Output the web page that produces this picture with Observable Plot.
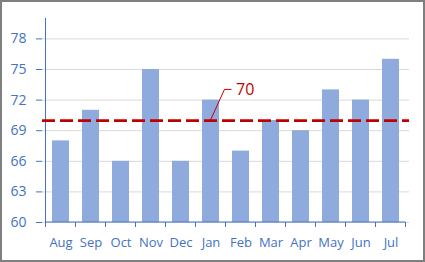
<!DOCTYPE html>
<html>
<head>
<meta charset="utf-8">
<script src="https://cdn.jsdelivr.net/npm/d3@7"></script>
<script src="https://cdn.jsdelivr.net/npm/@observablehq/plot@0.6"></script>
<style>
  html, body { margin: 0; padding: 0; background: #fff; }
  #wrap { position: relative; width: 425px; height: 262px; overflow: hidden; background: #fff; }
  #border { position: absolute; left: 0; top: 0; width: 425px; height: 262px; box-sizing: border-box; border: 2px solid #7f7f7f; pointer-events: none; }
  #wrap svg { position: absolute; left: 0; top: 0; }
</style>
</head>
<body>
<div id="wrap"><div id="border"></div></div>
<script>
const months = ["Aug", "Sep", "Oct", "Nov", "Dec", "Jan", "Feb", "Mar", "Apr", "May", "Jun", "Jul"];
const values = [68, 71, 66, 75, 66, 72, 67, 70, 69, 73, 72, 76];
const yTicks = [60, 63, 66, 69, 72, 75, 78];
const yDomain = [60, 80];
const target = 70;
const targetLabel = "70";
const labelMonth = "Jan";
const labelValue = 73;

const data = months.map((m, i) => ({month: m, value: values[i]}));

const axisColor = "#4472c4";
const barColor = "#8faadc";
const red = "#c00000";
const font = "'Open Sans', sans-serif";

function bw(s) { return typeof s.bandwidth === "function" ? s.bandwidth() : (s.bandwidth || 0); }
function st(s) { return typeof s.step === "function" ? s.step() : (s.step || bw(s)); }

// y axis line + category boundary ticks
function axesExtras(index, scales) {
  const sx = scales.x, sy = scales.y;
  const g = d3.create("svg:g");
  const step = st(sx), b = bw(sx);
  const x0 = sx(months[0]) + b / 2 - step / 2;
  const xN = sx(months[months.length - 1]) + b / 2 + step / 2;
  const yb = sy(yDomain[0]), yt = sy(yDomain[1]);
  g.append("line").attr("x1", x0).attr("x2", x0).attr("y1", yt).attr("y2", yb)
    .attr("stroke", axisColor).attr("stroke-width", 1);
  g.append("line").attr("x1", x0).attr("x2", xN).attr("y1", yb).attr("y2", yb)
    .attr("stroke", axisColor).attr("stroke-width", 1);
  for (let i = 0; i <= months.length; i++) {
    const x = i < months.length ? sx(months[i]) + b / 2 - step / 2 : xN;
    g.append("line").attr("x1", x).attr("x2", x).attr("y1", yb).attr("y2", yb + 5)
      .attr("stroke", axisColor).attr("stroke-width", 1);
  }
  return g.node();
}

// leader line for the target label
function leader(index, scales) {
  const sx = scales.x, sy = scales.y;
  const cx = sx(labelMonth) + bw(sx) / 2;
  const y0 = sy(target), y1 = sy(labelValue);
  return d3.create("svg:path")
    .attr("d", `M${cx},${y0}L${cx + 14},${y1}L${cx + 21},${y1}`)
    .attr("fill", "none").attr("stroke", red).attr("stroke-width", 1).node();
}

const chart = Plot.plot({
  width: 425,
  height: 262,
  marginLeft: 42,
  marginRight: 16,
  marginTop: 18,
  marginBottom: 40,
  style: {fontFamily: font, fontSize: "14px", color: axisColor, background: "transparent", overflow: "visible"},
  x: {domain: months, paddingInner: 0.44, paddingOuter: 0.22, axis: null, label: null},
  y: {domain: yDomain, axis: null, label: null},
  marks: [
    Plot.gridY(yTicks, {stroke: "#d9d9d9", strokeOpacity: 1, strokeWidth: 1}),
    Plot.barY(data, {x: "month", y1: yDomain[0], y2: "value", fill: barColor}),
    axesExtras,
    Plot.axisY(yTicks, {tickSize: 6, tickPadding: 10, fontSize: 14, label: null, tickFormat: d => String(d)}),
    Plot.axisX({tickSize: 0, tickPadding: 15, fontSize: 13, label: null}),
    Plot.ruleY([target], {stroke: red, strokeWidth: 2.75, strokeDasharray: "13,5"}),
    leader,
    Plot.text([{month: labelMonth, value: labelValue, label: targetLabel}], {
      x: "month", y: "value", text: "label", dx: 25, textAnchor: "start",
      fill: red, fontSize: 16, lineAnchor: "middle"
    })
  ]
});

document.getElementById("wrap").insertBefore(chart, document.getElementById("border"));
</script>
</body>
</html>
